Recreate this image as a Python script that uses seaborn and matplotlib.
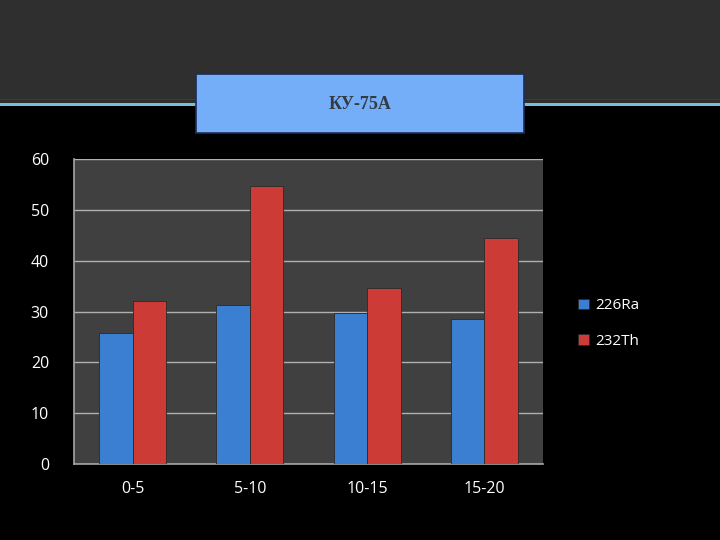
import pandas as pd
import matplotlib
matplotlib.use('Agg')
import matplotlib.pyplot as plt
import seaborn as sns
from matplotlib.patches import Rectangle

# Данные диаграммы
categories = ['0-5', '5-10', '10-15', '15-20']
ra226 = [25.8, 31.2, 29.7, 28.5]
th232 = [32.1, 54.6, 34.6, 44.5]
series_names = ['226Ra', '232Th']
title_text = 'КУ-75А'

df = pd.DataFrame({
    'interval': categories * 2,
    'value': ra226 + th232,
    'series': [series_names[0]] * 4 + [series_names[1]] * 4,
})

sns.set_theme(style='dark')
plt.rcParams['font.family'] = ['Open Sans', 'DejaVu Sans']

fig = plt.figure(figsize=(7.2, 5.4), dpi=100)
fig.patch.set_facecolor('black')

# верхняя полоса слайда (узор заменён тёмной заливкой)
fig.patches.append(Rectangle((0, 1 - 103 / 540), 1, 103 / 540, transform=fig.transFigure,
                             facecolor='#2f2f2f', edgecolor='none', zorder=0))
fig.patches.append(Rectangle((0, 1 - 100 / 540), 1, 1.2 / 540, transform=fig.transFigure,
                             facecolor='#5a2a3a', edgecolor='none', zorder=1))
fig.patches.append(Rectangle((0, 1 - 106 / 540), 1, 2.5 / 540, transform=fig.transFigure,
                             facecolor='#72c4d4', edgecolor='none', zorder=1))

# блок заголовка
fig.patches.append(Rectangle((196 / 720, 1 - 133 / 540), 328 / 720, 59 / 540,
                             transform=fig.transFigure, facecolor='#74aef8',
                             edgecolor='#1e2c5a', linewidth=1.2, zorder=2))
fig.text(360 / 720, 1 - 104 / 540, title_text, ha='center', va='center',
         fontsize=13, color='#333a44', family=['Liberation Serif', 'DejaVu Serif'],
         fontweight='bold', zorder=3)

ax = fig.add_axes([74 / 720, 76 / 540, 469 / 720, 305 / 540])
ax.set_facecolor('#404040')

sns.barplot(data=df, x='interval', y='value', hue='series',
            palette=['#3b7fd2', '#cd3b37'], width=0.57, gap=0.0, saturation=1,
            edgecolor='#2a2a2a', linewidth=0.6, ax=ax, zorder=3)

ax.set_ylim(0, 60)
ax.set_yticks(range(0, 61, 10))
ax.yaxis.grid(True, color='#b0b0b0', linewidth=1)
ax.xaxis.grid(False)
ax.set_axisbelow(True)
ax.set_xlabel('')
ax.set_ylabel('')
for s in ['top', 'right']:
    ax.spines[s].set_visible(False)
for s in ['left', 'bottom']:
    ax.spines[s].set_visible(True)
    ax.spines[s].set_color('#a0a0a0')
ax.tick_params(axis='both', colors='white', labelsize=11.5, length=0)
ax.tick_params(axis='x', pad=12)
ax.tick_params(axis='y', pad=18)

leg = ax.legend(loc='center left', bbox_to_anchor=(1.045, 0.46), frameon=False,
                fontsize=11, handlelength=0.7, handleheight=0.7,
                handletextpad=0.45, labelspacing=1.35)
for t in leg.get_texts():
    t.set_color('white')

fig.savefig('out.png', dpi=100, facecolor=fig.get_facecolor())
